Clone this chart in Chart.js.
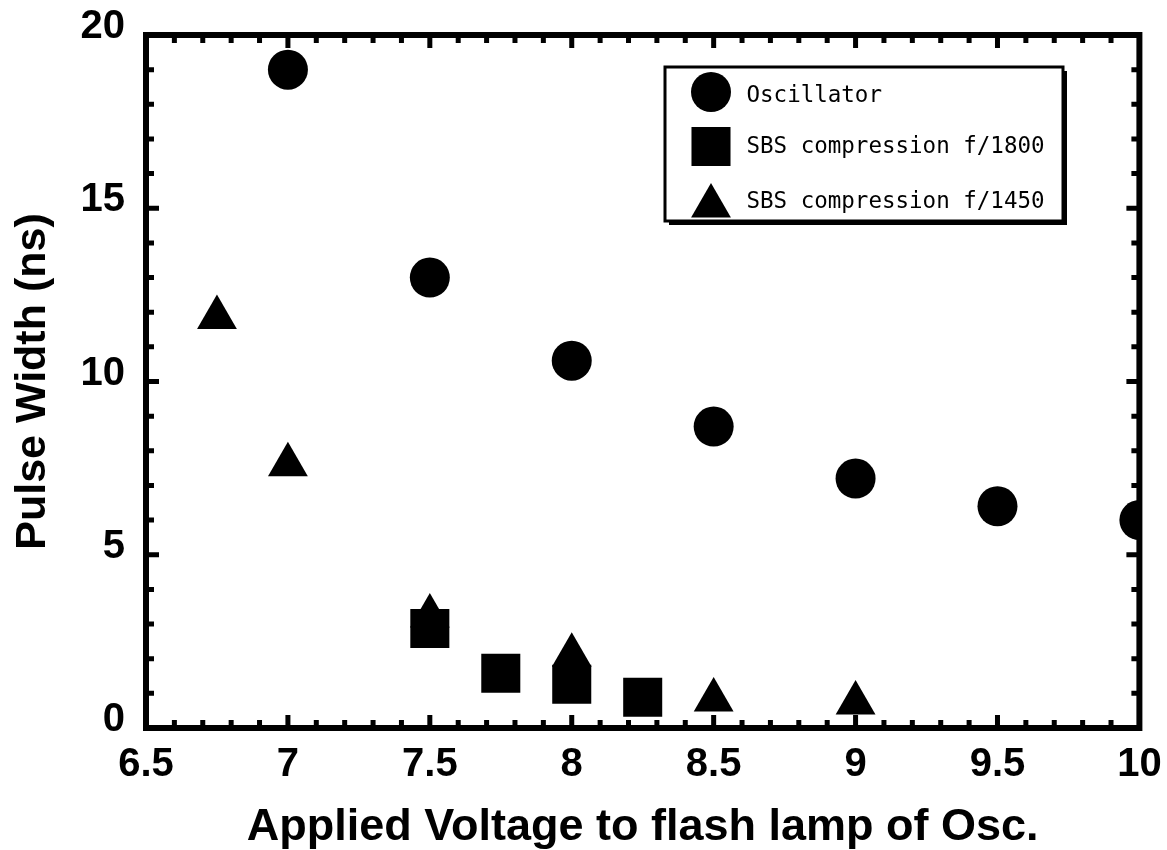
<!DOCTYPE html>
<html>
<head>
<meta charset="utf-8">
<script src="https://cdn.jsdelivr.net/npm/chart.js@4.4.1/dist/chart.umd.min.js"></script>
<style>
  html, body { margin: 0; padding: 0; background: #fff; }
  #grafico { display: block; }
</style>
</head>
<body>
<canvas id="grafico" width="1167" height="850"></canvas>
<script>
// Dados
const oscX = [7, 7.5, 8, 8.5, 9, 9.5, 10];
const oscY = [19.0, 13.0, 10.6, 8.7, 7.2, 6.4, 6.0];
const sbs1800X = [7.5, 7.75, 8, 8.25];
const sbs1800Y = [2.87, 1.58, 1.26, 0.89];
const sbs1450X = [6.75, 7, 7.5, 8, 8.5, 9];
const sbs1450Y = [11.85, 7.6, 3.23, 2.1, 0.81, 0.72];

const serieLabels = ["Oscillator", "SBS compression f/1800", "SBS compression f/1450"];
const xTickLabels = ["6.5", "7", "7.5", "8", "8.5", "9", "9.5", "10"];
const yTickLabels = ["0", "5", "10", "15", "20"];

const fonteEixo = "Arial, 'Liberation Sans', sans-serif";

// marcadores de cada série
const estilos = [
  { pointStyle: "circle", radius: 20 },
  { pointStyle: "rect", radius: 27.6 },
  { pointStyle: "triangle", radius: 23 },
];

function pares(xs, ys) {
  return xs.map((x, i) => ({ x, y: ys[i] }));
}

// Moldura com ticks para dentro nos quatro lados
const molduraPlugin = {
  id: "moldura",
  beforeDatasetsDraw(chart) {
    const {
      ctx,
      chartArea: { left, right, top, bottom },
      scales: { x, y },
    } = chart;
    ctx.save();
    ctx.strokeStyle = "#000";
    ctx.lineCap = "butt";
    ctx.lineWidth = 5;

    // ticks menores a cada 0.1, maiores a cada 0.5
    const nx = Math.round((x.max - x.min) / 0.1);
    for (let i = 1; i < nx; i++) {
      const px = x.getPixelForValue(x.min + i * 0.1);
      const len = i % 5 === 0 ? 13 : 8;
      ctx.beginPath();
      ctx.moveTo(px, bottom);
      ctx.lineTo(px, bottom - len);
      ctx.moveTo(px, top);
      ctx.lineTo(px, top + len);
      ctx.stroke();
    }

    // ticks menores a cada 1, maiores a cada 5
    const ny = Math.round(y.max - y.min);
    for (let i = 1; i < ny; i++) {
      const py = y.getPixelForValue(y.min + i);
      const len = i % 5 === 0 ? 13 : 8;
      ctx.beginPath();
      ctx.moveTo(left, py);
      ctx.lineTo(left + len, py);
      ctx.moveTo(right, py);
      ctx.lineTo(right - len, py);
      ctx.stroke();
    }

    ctx.lineWidth = 6;
    ctx.strokeRect(left, top, right - left, bottom - top);
    ctx.restore();
  },
};

// Legenda com caixa e sombra
const legendaPlugin = {
  id: "legenda",
  afterDraw(chart) {
    const ctx = chart.ctx;
    const bx = 665, by = 67, bw = 398, bh = 154;
    ctx.save();
    ctx.fillStyle = "#000";
    ctx.fillRect(bx + 4, by + 4, bw, bh);
    ctx.fillStyle = "#fff";
    ctx.fillRect(bx, by, bw, bh);
    ctx.lineWidth = 3;
    ctx.strokeStyle = "#000";
    ctx.strokeRect(bx, by, bw, bh);

    const marcY = [92, 146.5, 206];
    const textoY = [102, 153, 207.5];
    ctx.fillStyle = "#000";
    ctx.strokeStyle = "#000";
    serieLabels.forEach((label, i) => {
      const est = estilos[i];
      if (Chart.helpers && Chart.helpers.drawPoint) {
        Chart.helpers.drawPoint(
          ctx,
          { pointStyle: est.pointStyle, radius: est.radius, rotation: 0, borderWidth: 0 },
          711,
          marcY[i]
        );
      }
      ctx.font = "22.5px 'DejaVu Sans Mono', monospace";
      ctx.textAlign = "left";
      ctx.textBaseline = "alphabetic";
      ctx.fillText(label, 746.5, textoY[i]);
    });
    ctx.restore();
  },
};

const dados = [pares(oscX, oscY), pares(sbs1800X, sbs1800Y), pares(sbs1450X, sbs1450Y)];

new Chart(document.getElementById("grafico").getContext("2d"), {
  type: "scatter",
  plugins: [molduraPlugin, legendaPlugin],
  data: {
    datasets: dados.map((d, i) => ({
      label: serieLabels[i],
      data: d,
      pointStyle: estilos[i].pointStyle,
      pointRadius: estilos[i].radius,
      pointHoverRadius: estilos[i].radius,
      pointBackgroundColor: "#000",
      pointBorderWidth: 0,
      showLine: false,
    })),
  },
  options: {
    responsive: false,
    animation: false,
    devicePixelRatio: 1,
    layout: { padding: { top: 35, right: 27, left: 0, bottom: 0 } },
    plugins: {
      legend: { display: false },
      tooltip: { enabled: false },
    },
    scales: {
      x: {
        type: "linear",
        min: 6.5,
        max: 10,
        afterFit: (scale) => {
          scale.height = 122;
          scale.paddingLeft = 0;
          scale.paddingRight = 0;
        },
        grid: { display: false, drawTicks: false },
        border: { display: false },
        ticks: {
          stepSize: 0.5,
          padding: 13,
          autoSkip: false,
          maxRotation: 0,
          color: "#000",
          font: { family: fonteEixo, size: 40, weight: "bold" },
          callback: (v, i) => xTickLabels[i],
        },
        title: {
          display: true,
          text: "Applied Voltage to flash lamp of Osc.",
          color: "#000",
          font: { family: fonteEixo, size: 45, weight: "bold", lineHeight: 1 },
          padding: { top: 0, bottom: 0 },
        },
      },
      y: {
        type: "linear",
        min: 0,
        max: 20,
        afterFit: (scale) => {
          scale.width = 146;
          scale.paddingTop = 0;
          scale.paddingBottom = 0;
        },
        grid: { display: false, drawTicks: false },
        border: { display: false },
        ticks: {
          stepSize: 5,
          padding: 21,
          labelOffset: -8,
          color: "#000",
          font: { family: fonteEixo, size: 40, weight: "bold" },
          callback: (v, i) => yTickLabels[i],
        },
        title: {
          display: true,
          text: "Pulse Width (ns)",
          color: "#000",
          font: { family: fonteEixo, size: 43, weight: "bold", lineHeight: 1 },
          padding: { top: 12, bottom: 0 },
        },
      },
    },
  },
});
</script>
</body>
</html>
